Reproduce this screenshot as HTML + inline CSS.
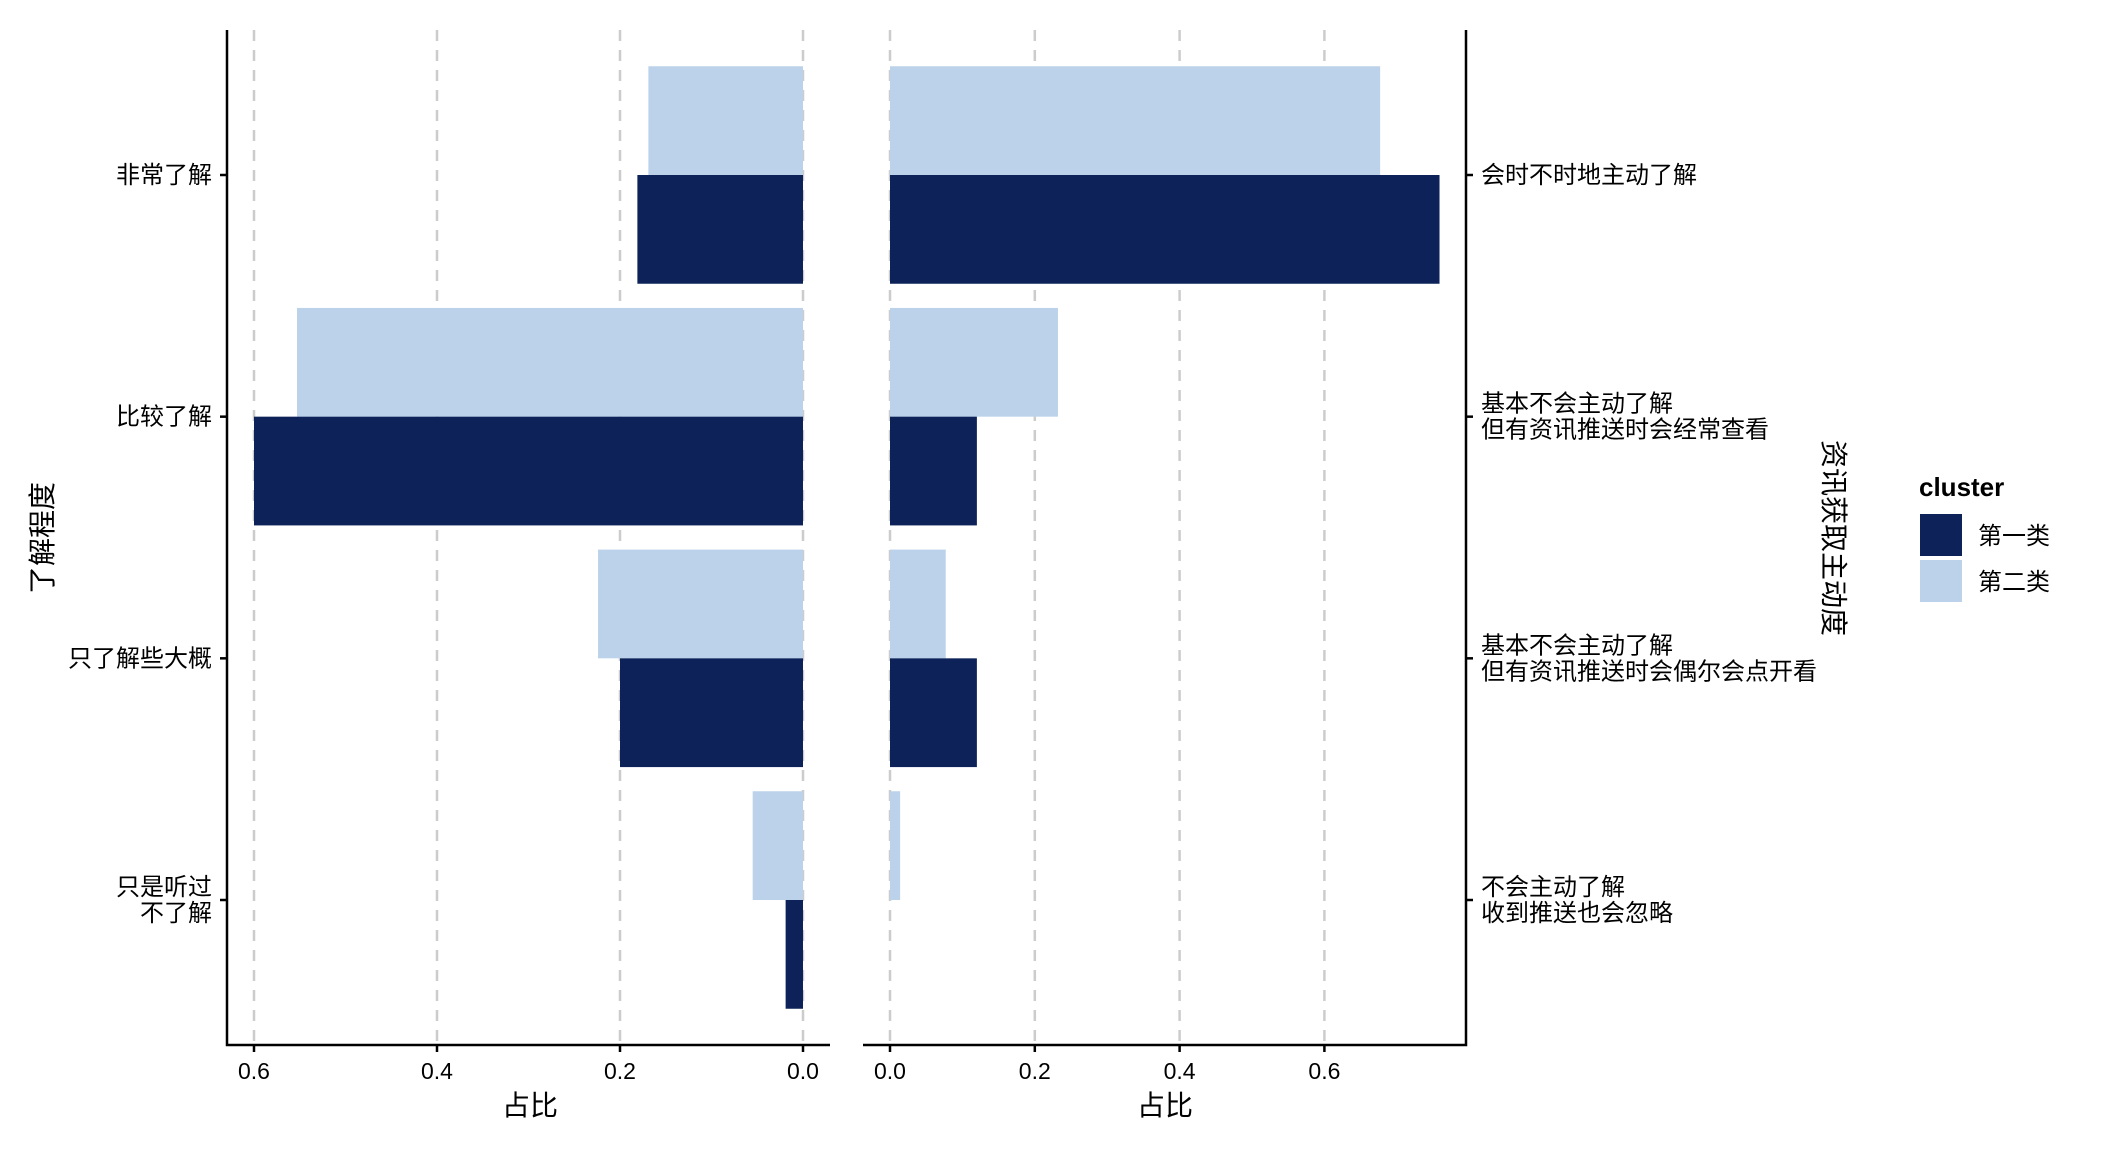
<!DOCTYPE html>
<html><head><meta charset="utf-8"><style>
html,body{margin:0;padding:0;background:#fff;}
svg{display:block;}
text{font-family:"Liberation Sans","Noto Sans CJK SC",sans-serif;fill:#000;}
</style></head><body>
<svg id="chart" width="2112" height="1152" viewBox="0 0 2112 1152" xmlns="http://www.w3.org/2000/svg">
<g id="g"></g>
</svg>
<script>
const leftCats = ["非常了解","比较了解","只了解些大概","只是听过\n不了解"];
const leftC1 = [0.181, 0.600, 0.200, 0.019];
const leftC2 = [0.169, 0.553, 0.224, 0.055];
const rightCats = ["会时不时地主动了解","基本不会主动了解\n但有资讯推送时会经常查看","基本不会主动了解\n但有资讯推送时会偶尔会点开看","不会主动了解\n收到推送也会忽略"];
const rightC1 = [0.759, 0.120, 0.120, 0.000];
const rightC2 = [0.677, 0.232, 0.077, 0.014];
const ticks = [0, 0.2, 0.4, 0.6];
const tickLabels = ["0.0","0.2","0.4","0.6"];
const seriesNames = ["第一类","第二类"];
const colors = ["#0c2259","#bcd2eb"];

const NS="http://www.w3.org/2000/svg";
const g=document.getElementById('g');
function el(tag, attrs, parent){const e=document.createElementNS(NS,tag);for(const k in attrs)e.setAttribute(k,attrs[k]);(parent||g).appendChild(e);return e;}

const yTop=30, yBottom=1045;
const band=(yBottom-yTop)/(leftCats.length-1+1.2);
function yc(i){return yTop+0.6*band+i*band;}
const barH=band*0.45;
function xl(v){return 803 - v*915;}
function xr(v){return 890 + v*724;}

ticks.forEach(t=>{
  const a=el('line',{x1:xl(t),x2:xl(t),y1:yTop,y2:yBottom,stroke:'#cccccc','stroke-width':2.5,'stroke-dasharray':'11,9'});
  
  
  const b=el('line',{x1:xr(t),x2:xr(t),y1:yTop,y2:yBottom,stroke:'#cccccc','stroke-width':2.5,'stroke-dasharray':'11,9'});
  
  
});

leftCats.forEach((c,i)=>{
  const r2=el('rect',{x:xl(leftC2[i]),y:yc(i)-barH,width:xl(0)-xl(leftC2[i]),height:barH,fill:colors[1]});
  
  
  const r1=el('rect',{x:xl(leftC1[i]),y:yc(i),width:xl(0)-xl(leftC1[i]),height:barH,fill:colors[0]});
  
  
});
rightCats.forEach((c,i)=>{
  const r2=el('rect',{x:xr(0),y:yc(i)-barH,width:xr(rightC2[i])-xr(0),height:barH,fill:colors[1]});
  
  
  const r1=el('rect',{x:xr(0),y:yc(i),width:xr(rightC1[i])-xr(0),height:barH,fill:colors[0]});
  
  
});

let ax=el('path',{d:`M227,${yTop} V${yBottom} H830`,stroke:'#000','stroke-width':2.5,fill:'none'});


ax=el('path',{d:`M863,${yBottom} H1466 V${yTop}`,stroke:'#000','stroke-width':2.5,fill:'none'});



ticks.forEach((t,i)=>{
  [[xl(t),'left'],[xr(t),'right']].forEach(([x,s])=>{
    el('line',{x1:x,x2:x,y1:yBottom,y2:yBottom+7,stroke:'#000','stroke-width':2.5});
    const tx=el('text',{x:x,y:yBottom+34,'text-anchor':'middle','font-size':23});
    tx.textContent=tickLabels[i];
    
    
  });
});

function multi(txt,x,y,anchor,name){
  const lines=txt.split('\n');
  const t=el('text',{x:x,'text-anchor':anchor,'font-size':24});
  
  
  const lh=26;
  lines.forEach((l,k)=>{const s=el('tspan',{x:x,y:y+8+(k-(lines.length-1)/2)*lh},t);s.textContent=l;});
}
leftCats.forEach((c,i)=>{
  el('line',{x1:220,x2:227,y1:yc(i),y2:yc(i),stroke:'#000','stroke-width':2.5});
  multi(c,212,yc(i),'end','left-y-tick-label');
});
rightCats.forEach((c,i)=>{
  el('line',{x1:1466,x2:1473,y1:yc(i),y2:yc(i),stroke:'#000','stroke-width':2.5});
  multi(c,1481,yc(i),'start','right-y-tick-label');
});

let t=el('text',{x:530,y:1115,'text-anchor':'middle','font-size':28});t.textContent='占比';


t=el('text',{x:1165,y:1115,'text-anchor':'middle','font-size':28});t.textContent='占比';


t=el('text',{x:0,y:0,'text-anchor':'middle','font-size':28,transform:'translate(52,538) rotate(-90)'});t.textContent='了解程度';


t=el('text',{x:0,y:0,'text-anchor':'middle','font-size':28,transform:'translate(1824,538) rotate(90)'});t.textContent='资讯获取主动度';



t=el('text',{x:1919,y:496,'font-size':26,'font-weight':'bold'});t.textContent='cluster';


seriesNames.forEach((n,k)=>{
  const y=514+k*46;
  const r=el('rect',{x:1920,y:y,width:42,height:42,fill:colors[k]});
  
  
  const l=el('text',{x:1978,y:y+30,'font-size':24});l.textContent=n;
  
  
});
</script>
</body></html>
